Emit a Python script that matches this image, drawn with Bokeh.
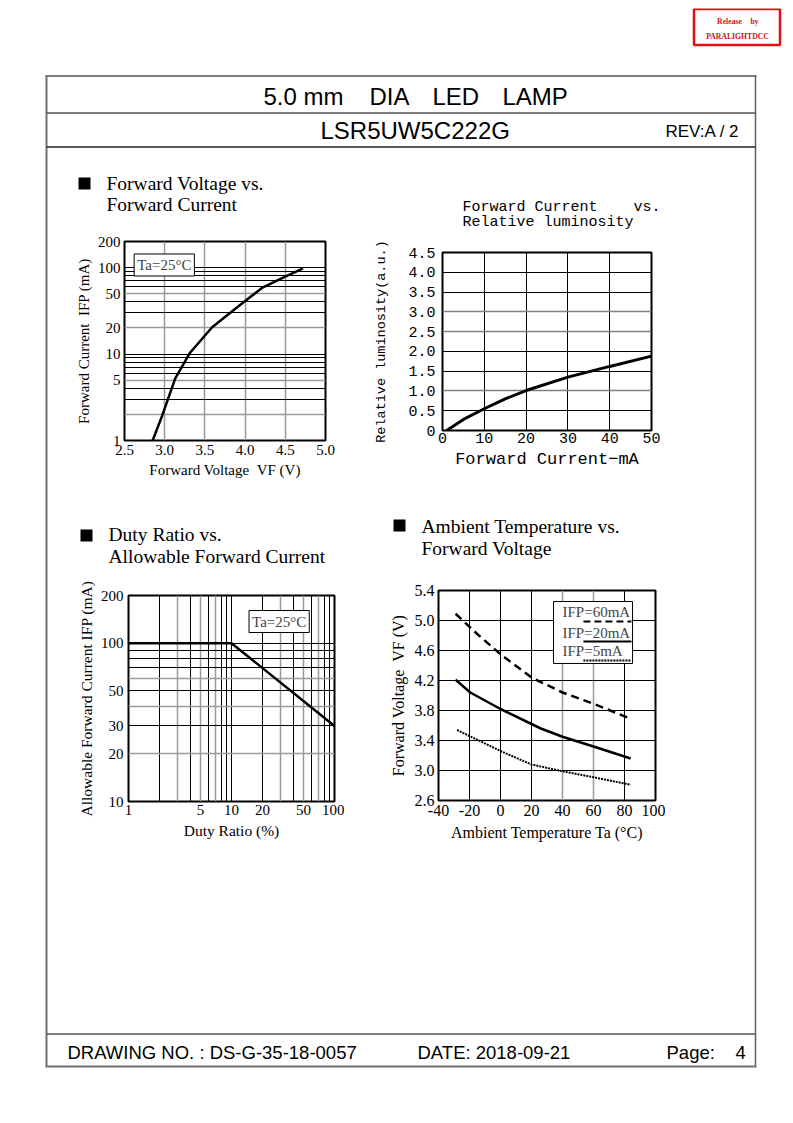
from bokeh.plotting import figure
from bokeh.models import (Range1d, FixedTicker, PrintfTickFormatter, CustomJSTickFormatter,
                          Grid, Label, BoxAnnotation)
from bokeh.embed import file_html
from bokeh.resources import INLINE
from bokeh.core.properties import value

SERIF = "Liberation Serif"
SANS = "Liberation Sans"
MONO = "Liberation Mono"
NB = "\u00a0"

# ---------------- data ----------------
# Forward Voltage vs Forward Current
fv_vf = [2.85, 2.97, 3.13, 3.31, 3.59, 3.98, 4.21, 4.48, 4.72]
fv_if = [1.0, 1.95, 5.2, 10.2, 20.4, 39.7, 58.0, 77.0, 98.0]
fv_xticks = [2.5, 3.0, 3.5, 4.0, 4.5, 5.0]
fv_yticks = [1, 5, 10, 20, 50, 100, 200]

# Forward Current vs Relative luminosity
lum_if = [1, 5, 10, 15, 20, 30, 40, 50]
lum_rel = [0.0, 0.28, 0.55, 0.80, 1.01, 1.35, 1.62, 1.88]
lum_xticks = [0, 10, 20, 30, 40, 50]
lum_yticks = [0, 0.5, 1.0, 1.5, 2.0, 2.5, 3.0, 3.5, 4.0, 4.5]

# Duty ratio vs Allowable forward current
duty = [1, 10, 100]
allow_if = [100, 100, 30]
duty_xticks = [1, 5, 10, 20, 50, 100]
duty_yticks = [10, 20, 30, 50, 100, 200]

# Ambient temperature vs Forward voltage
ta_60 = [-29, -15, 0, 20, 40, 60, 84]
vf_60 = [5.09, 4.82, 4.55, 4.24, 4.04, 3.89, 3.69]
ta_20 = [-29, -19.5, 0, 20, 26, 40, 60, 84]
vf_20 = [4.21, 4.04, 3.82, 3.62, 3.56, 3.45, 3.32, 3.16]
ta_5 = [-28, 0, 20, 40, 60, 84]
vf_5 = [3.54, 3.26, 3.08, 2.99, 2.91, 2.81]
ta_xticks = [-40, -20, 0, 20, 40, 60, 80, 100]
ta_yticks = [2.6, 3.0, 3.4, 3.8, 4.2, 4.6, 5.0, 5.4]
legend_labels = ["IFP=60mA", "IFP=20mA", "IFP=5mA"]
legend_dashes = ["7 4", "solid", "2 1"]

# ---------------- helpers ----------------
def chart(frame_left, frame_top, fw, fh, bl, bb, xr, yr, xt="linear", yt="linear"):
    bt, br = 30, 10
    p = figure(width=fw + bl + br, height=fh + bt + bb, x_range=xr, y_range=yr,
               x_axis_type=xt, y_axis_type=yt, output_backend="svg", toolbar_location=None,
               min_border_left=bl, min_border_right=br, min_border_top=bt, min_border_bottom=bb)
    p.border_fill_color = None
    p.background_fill_color = "white"
    p.outline_line_color = "black"
    p.outline_line_width = 2
    p.grid.grid_line_color = None
    p.styles = {"position": "absolute", "left": f"{frame_left - bl}px",
                "top": f"{frame_top - bt}px"}
    return p


def style_axis(ax, ticks, fmt, font, size, standoff, label, lsize, lstandoff, lfont=None):
    ax.ticker = FixedTicker(ticks=ticks)
    ax.formatter = fmt
    ax.axis_line_color = None
    ax.major_tick_line_color = None
    ax.minor_tick_line_color = None
    ax.major_tick_out = 0
    ax.major_tick_in = 0
    ax.major_label_text_font = font
    ax.major_label_text_font_size = size
    ax.major_label_text_color = "black"
    ax.major_label_standoff = standoff
    ax.axis_label = label
    ax.axis_label_text_font = lfont or font
    ax.axis_label_text_font_size = lsize
    ax.axis_label_text_font_style = "normal"
    ax.axis_label_text_color = "black"
    ax.axis_label_standoff = lstandoff


def grid(p, dim, ticks, color, width):
    p.add_layout(Grid(dimension=dim, ticker=FixedTicker(ticks=ticks),
                      grid_line_color=color, grid_line_width=width))

GRAY = "#9a9a9a"

# ---------------- chart 1 ----------------
c1 = chart(124, 241, 201, 199, 70, 50, Range1d(2.5, 5.0), Range1d(1, 200), yt="log")
grid(c1, 0, [3.0, 3.5, 4.0, 4.5], GRAY, 1.5)
grid(c1, 1, [3, 4, 6, 7, 8, 9, 10, 30, 40, 60, 70, 80, 90, 100], "black", 1)
grid(c1, 1, [2, 5, 20, 50], GRAY, 1.5)
style_axis(c1.xaxis[0], fv_xticks, PrintfTickFormatter(format="%.1f"), SERIF, "15px", 4,
           "Forward Voltage" + NB + NB + "VF (V)", "15px", 4)
style_axis(c1.yaxis[0], fv_yticks, PrintfTickFormatter(format="%d"), SERIF, "15px", 4,
           "Forward Current" + NB + NB + "IFP (mA)", "15px", 3)
c1.line(fv_vf, fv_if, line_color="black", line_width=2.5)
c1.add_layout(Label(x=2.62, y=107, text="Ta=25°C", text_font=SERIF, text_font_size="15px",
                    text_baseline="middle", text_align="left", border_line_color="black",
                    border_line_width=1, background_fill_color="white", padding=3))

# ---------------- chart 2 ----------------
c2 = chart(442, 252, 209, 178, 85, 50, Range1d(0, 50), Range1d(0, 4.5))
grid(c2, 0, [10, 20, 30, 40], "black", 1)
grid(c2, 1, [0.5, 1.5, 2.0, 3.5, 4.0], "black", 1)
grid(c2, 1, [1.0, 2.5, 3.0], "#808080", 1.5)
style_axis(c2.xaxis[0], lum_xticks, PrintfTickFormatter(format="%d"), MONO, "15px", 2,
           "Forward Current\u2212mA", "17px", 4)
style_axis(c2.yaxis[0], lum_yticks,
           CustomJSTickFormatter(code="return tick == 0 ? '0' : tick.toFixed(1);"),
           MONO, "15px", 7, "Relative" + NB + "luminosity(a.u.)", "13.5px", 16)
c2.line(lum_if, lum_rel, line_color="black", line_width=3)

# ---------------- chart 3 ----------------
c3 = chart(128, 595, 206, 206, 70, 50, Range1d(1, 100), Range1d(10, 200), xt="log", yt="log")
grid(c3, 0, [2, 4, 6, 8, 9, 10, 20, 40, 60, 80, 90], "black", 1)
grid(c3, 0, [3, 5, 7, 30, 50, 70], GRAY, 1.5)
grid(c3, 1, [30, 50, 70, 80, 90, 100], "black", 1)
grid(c3, 1, [20, 40, 60], GRAY, 1.5)
style_axis(c3.xaxis[0], duty_xticks, PrintfTickFormatter(format="%d"), SERIF, "15px", 3,
           "Duty Ratio (%)", "15.5px", 4)
style_axis(c3.yaxis[0], duty_yticks, PrintfTickFormatter(format="%d"), SERIF, "15px", 5,
           "Allowable Forward Current IFP (mA)", "15.5px", 3)
c3.line(duty, allow_if, line_color="black", line_width=2.5)
c3.add_layout(Label(x=14.8, y=137, text="Ta=25°C", text_font=SERIF, text_font_size="15px",
                    text_baseline="middle", text_align="left", border_line_color="black",
                    border_line_width=1, background_fill_color="white", padding=3))

# ---------------- chart 4 ----------------
c4 = chart(438, 590, 217, 210, 70, 50, Range1d(-40, 100), Range1d(2.6, 5.4))
grid(c4, 0, [-20, 0, 20, 80], "black", 1)
grid(c4, 0, [40, 60], GRAY, 1.5)
grid(c4, 1, [3.0, 3.4, 3.8, 4.2, 4.6, 5.0], "black", 1)
style_axis(c4.xaxis[0], ta_xticks, PrintfTickFormatter(format="%d"), SERIF, "16px", 4,
           "Ambient Temperature Ta (°C)", "16px", 5)
style_axis(c4.yaxis[0], ta_yticks, PrintfTickFormatter(format="%.1f"), SERIF, "16px", 4,
           "Forward Voltage" + NB + NB + "VF (V)", "16px", 5)
c4.line(ta_60, vf_60, line_color="black", line_width=2.5, line_dash="8 5")
c4.line(ta_20, vf_20, line_color="black", line_width=2.5)
c4.line(ta_5, vf_5, line_color="black", line_width=2, line_dash="2 1")

# legend box (layout in data units of chart 4)
leg_box = dict(left=34.2, right=85.2, top=5.253, bottom=4.427)
leg_text_x = 40.0
leg_text_y = [5.107, 4.84, 4.587]
leg_line_x = [53.5, 84.5]
leg_line_y = [4.987, 4.72, 4.467]
c4.add_layout(BoxAnnotation(fill_color="white", fill_alpha=1, line_color="black",
                            line_width=1, line_alpha=1, **leg_box))
for lab, ty, ly, dash in zip(legend_labels, leg_text_y, leg_line_y, legend_dashes):
    c4.add_layout(Label(x=leg_text_x, y=ty, text=lab, text_font=SERIF, text_font_size="15px",
                        text_baseline="middle", text_align="left"))
    c4.line(leg_line_x, [ly, ly], line_color="black", line_width=2, line_dash=dash,
            level="overlay")

# ---------------- page ----------------
page = figure(width=777, height=1107, x_range=Range1d(8, 785), y_range=Range1d(1115, 8),
              x_axis_location=None, y_axis_location=None, output_backend="svg",
              toolbar_location=None, min_border=0, outline_line_color=None)
page.grid.visible = False
page.background_fill_color = "white"
page.border_fill_color = "white"
page.styles = {"position": "absolute", "left": "8px", "top": "8px"}

frame_x0 = [45, 46, 755, 45, 46, 46, 46]
frame_y0 = [75.5, 75, 75, 1066, 112.5, 146.5, 1033.5]
frame_x1 = [756, 46, 755, 756, 755, 755, 755]
frame_y1 = [75.5, 1066, 1066, 1066, 112.5, 146.5, 1033.5]
frame_col = ["#808080", "#707070", "#606060", "#707070", "#505050", "#202020", "#505050"]
frame_w = [2, 2, 1.5, 2, 1.5, 1.5, 1.5]
page.segment(frame_x0, frame_y0, frame_x1, frame_y1, line_color=frame_col, line_width=frame_w)

# release stamp
page.quad(left=[693.5], right=[779.5], top=[8.5], bottom=[44.5], fill_color=None,
          line_color="#e01010", line_width=2.5)
page.text(x=[729, 754, 737], y=[21, 21, 36], text=["Release", "by", "PARALIGHTDCC"],
          text_font=value(SERIF), text_font_size="7.7px", text_font_style="bold",
          text_color="#d01010", text_align="center", text_baseline="middle")

# header / footer
page.text(x=[263, 369, 432, 502], y=[96, 96, 96, 96], text=["5.0 mm", "DIA", "LED", "LAMP"],
          text_font=value(SANS), text_font_size="24px", text_align="left",
          text_baseline="middle", text_color="black")
page.text(x=[320], y=[130], text=["LSR5UW5C222G"], text_font=value(SANS),
          text_font_size="24px", text_align="left", text_baseline="middle", text_color="black")
page.text(x=[665], y=[131], text=["REV:A / 2"], text_font=value(SANS), text_font_size="17px",
          text_align="left", text_baseline="middle", text_color="black")
page.text(x=[67, 417, 666], y=[1052, 1052, 1052],
          text=["DRAWING NO. : DS-G-35-18-0057", "DATE: 2018-09-21",
                "Page:" + NB + NB + NB + NB + "4"],
          text_font=value(SANS), text_font_size="18.5px", text_align="left",
          text_baseline="middle", text_color="black")

# chart section titles
page.rect(x=[84, 86, 399], y=[183, 535, 525], width=12, height=12, fill_color="black",
          line_color=None)
page.text(x=[106, 106, 108, 108, 421, 421], y=[183, 204, 534, 556, 526, 548],
          text=["Forward Voltage vs.", "Forward Current", "Duty Ratio vs.",
                "Allowable Forward Current", "Ambient Temperature vs.", "Forward Voltage"],
          text_font=value(SERIF), text_font_size="19.5px", text_align="left",
          text_baseline="middle", text_color="black")
page.text(x=[462, 462], y=[207, 222],
          text=["Forward Current " + NB * 3 + "vs.", "Relative luminosity"],
          text_font=value(MONO), text_font_size="15px", text_align="left",
          text_baseline="middle", text_color="black")

open("out.html", "w").write(file_html([page, c1, c2, c3, c4], INLINE))
